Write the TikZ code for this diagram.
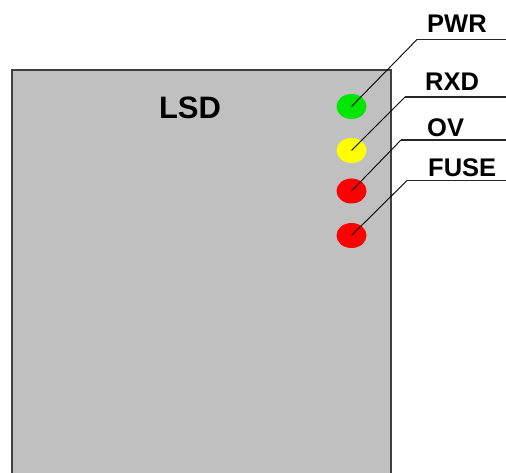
\documentclass[tikz,border=0pt]{standalone}
\usepackage{fontspec}
\setmainfont{Liberation Sans}
\usetikzlibrary{shapes.geometric}
\definecolor{panel}{RGB}{192,192,192}
\definecolor{edge}{RGB}{64,64,64}
\definecolor{ledgreen}{RGB}{0,230,0}
\definecolor{ledyellow}{RGB}{255,255,0}
\definecolor{ledred}{RGB}{255,0,0}
\begin{document}
\begin{tikzpicture}[x=1pt,y=-1pt,
  led/.style={ellipse, minimum width=30pt, minimum height=25pt, inner sep=0pt, draw=none},
  lbl/.style={anchor=base west, font=\bfseries\fontsize{25.5}{26}\selectfont, inner sep=0pt},
  leader/.style={draw=black, line width=0.9pt},
  shelf/.style={draw=black!85, line width=1.5pt}]
\useasboundingbox (0,0) rectangle (506,473);
\clip (0,0) rectangle (506,473);
\fill[panel] (12,70) rectangle (391,480);
\draw[edge, line width=2pt] (12,480) -- (12,70) -- (391,70) -- (391,480);
\node[anchor=base, font=\bfseries\fontsize{31}{34}\selectfont, inner sep=0pt] (title) at (190,118.5) {LSD};
\node[led, fill=ledgreen] (pwr) at (351.5,106.5) {};
\node[led, fill=ledyellow] (rxd) at (351.5,150.5) {};
\node[led, fill=ledred] (ov) at (351.5,191) {};
\node[led, fill=ledred] (fuse) at (351.5,235.5) {};
\node[lbl] (tpwr) at (427,33) {PWR};
\node[lbl] (trxd) at (425,91) {RXD};
\node[lbl] (tov) at (427,137) {OV};
\node[lbl] (tfuse) at (428,177) {FUSE};
\coordinate (kpwr) at (417,39.5);
\coordinate (krxd) at (405,97);
\coordinate (kov) at (401,140);
\coordinate (kfuse) at (407,180.5);
\coordinate (epwr) at (506,39.5);
\coordinate (erxd) at (506,97);
\coordinate (eov) at (506,140);
\coordinate (efuse) at (506,180.5);
\draw[leader] (pwr.center) -- (kpwr);
\draw[shelf] (kpwr) -- (epwr);
\draw[leader] (rxd.center) -- (krxd);
\draw[shelf] (krxd) -- (erxd);
\draw[leader] (ov.center) -- (kov);
\draw[shelf] (kov) -- (eov);
\draw[leader] (fuse.center) -- (kfuse);
\draw[shelf] (kfuse) -- (efuse);
\end{tikzpicture}
\end{document}
